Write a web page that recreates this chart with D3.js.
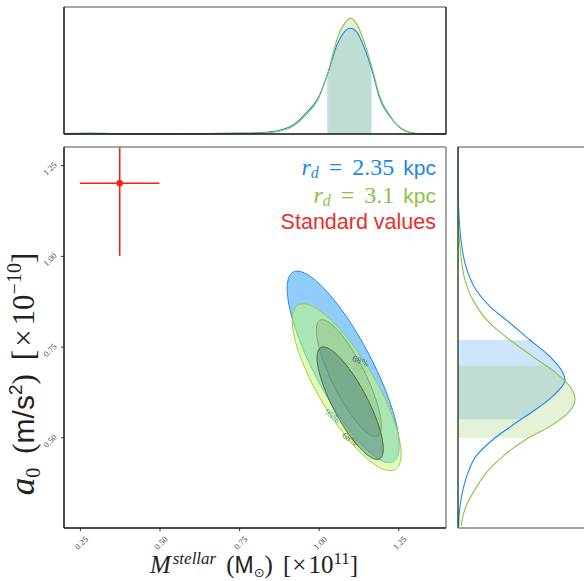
<!DOCTYPE html>
<html>
<head>
<meta charset="utf-8">
<script src="https://cdnjs.cloudflare.com/ajax/libs/d3/7.8.5/d3.min.js"></script>
<style>
  body { margin: 0; background: #fff; }
  svg { display: block; }
</style>
</head>
<body>
<svg id="chart" width="584" height="581"></svg>
<script>
// ---- data ----
const xTicks = [0.25, 0.50, 0.75, 1.00, 1.25];
const yTicks = [0.50, 0.75, 1.00, 1.25];

// marginal of M_stellar: [value, relative density]
const massBlue = [[0.20,0.004],[0.28,0.009],[0.36,0.004],[0.45,0.001],[0.55,0.002],[0.65,0.004],[0.75,0.008],
  [0.82,0.013],[0.88,0.035],[0.92,0.078],[0.96,0.18],[1.00,0.32],[1.03,0.536],[1.06,0.787],[1.08,0.88],
  [1.10,0.914],[1.12,0.88],[1.14,0.77],[1.17,0.527],[1.19,0.32],[1.225,0.147],[1.257,0.052],[1.29,0.011],[1.32,0.002],[1.40,0]];
const massGreen = [[0.20,0],[0.55,0],[0.65,0.001],[0.75,0.003],[0.82,0.006],[0.88,0.026],[0.92,0.068],[0.96,0.165],
  [1.00,0.31],[1.03,0.54],[1.06,0.84],[1.08,0.95],[1.10,1.0],[1.12,0.95],[1.14,0.82],[1.17,0.55],[1.19,0.34],
  [1.225,0.155],[1.257,0.05],[1.29,0.012],[1.32,0.002],[1.40,0]];

// marginal of a0: [value, relative density]
const a0Blue = [[1.30,0],[1.18,0.001],[1.107,0.009],[1.043,0.026],[0.97,0.068],[0.906,0.154],[0.86,0.274],
  [0.815,0.444],[0.768,0.615],[0.722,0.786],[0.677,0.897],[0.658,0.915],[0.622,0.838],[0.585,0.70],
  [0.54,0.496],[0.494,0.30],[0.448,0.154],[0.402,0.085],[0.356,0.043],[0.31,0.017],[0.255,0.006]];
const a0Green = [[1.30,0],[1.12,0.002],[1.06,0.009],[0.997,0.026],[0.933,0.06],[0.878,0.128],[0.814,0.274],
  [0.768,0.444],[0.722,0.641],[0.677,0.838],[0.64,0.957],[0.604,1.0],[0.567,0.94],[0.53,0.786],
  [0.494,0.58],[0.448,0.385],[0.402,0.24],[0.356,0.145],[0.31,0.068],[0.255,0.026]];

// 68% intervals
const massBand = [[1.026, 1.167], [1.03, 1.163]];
const a0Band = [[0.549, 0.768], [0.498, 0.697]];

// 2D contours: blue 95, blue 68, green 95, green 68
const contourCx = [1.077, 1.095, 1.088, 1.099];
const contourCy = [0.694, 0.663, 0.638, 0.594];
const contourHx = [0.176, 0.102, 0.171, 0.104];
const contourHy = [0.264, 0.161, 0.230, 0.155];
const contourRho = [-0.82, -0.82, -0.80, -0.81];

// contour labels
const labelText = ["68%", "95%", "95%", "68%"];
const labelX = [1.131, 1.134, 1.043, 1.099];
const labelY = [0.711, 0.692, 0.560, 0.496];

// standard values point
const stdX = 0.375, stdXErr = 0.125;
const stdY = 1.20, stdYErr = 0.20;

// ---- drawing ----
const BLUE = "#1E88E5", GREEN = "#8BC34A", RED = "#ff1a1a";
const SERIF = "'Liberation Serif', 'DejaVu Serif', serif";
const SANS = "'Liberation Sans', 'DejaVu Sans', sans-serif";

const main = { left: 64, right: 446, top: 147, bottom: 528 };
const topP = { left: 64, right: 446, top: 7, bottom: 134 };
const rightP = { left: 458, right: 585, top: 147, bottom: 528 };

const svg = d3.select("#chart");
const defs = svg.append("defs");

const x = d3.scaleLinear().domain([0.2, 1.4]).range([main.left, main.right]);
const y = d3.scaleLinear().domain([0.25, 1.3]).range([main.bottom, main.top]);
const topY = d3.scaleLinear().domain([0, 1.098]).range([topP.bottom, topP.top]);
const rightX = d3.scaleLinear().domain([0, 1.085]).range([rightP.left, rightP.right]);

function clipRect(id, x0, y0, x1, y1) {
  defs.append("clipPath").attr("id", id).append("rect")
    .attr("x", x0).attr("y", y0).attr("width", x1 - x0).attr("height", y1 - y0);
}
clipRect("clip-main", main.left, main.top, main.right, main.bottom);

// ---- top marginal ----
const topG = svg.append("g");
const areaTop = d3.area().x(d => x(d[0])).y0(topP.bottom).y1(d => topY(d[1])).curve(d3.curveMonotoneX);
const lineTop = d3.line().x(d => x(d[0])).y(d => topY(d[1])).curve(d3.curveMonotoneX);
[[massBlue, BLUE], [massGreen, GREEN]].forEach(([data, col], i) => {
  clipRect("clip-top-" + i, x(massBand[i][0]), topP.top, x(massBand[i][1]), topP.bottom);
  topG.append("path").attr("d", areaTop(data)).attr("fill", col).attr("fill-opacity", 0.22)
    .attr("clip-path", `url(#clip-top-${i})`);
});
[[massBlue, BLUE], [massGreen, GREEN]].forEach(([data, col]) => {
  topG.append("path").attr("d", lineTop(data)).attr("fill", "none").attr("stroke", col).attr("stroke-width", 1.1);
});

// ---- right marginal ----
const rightG = svg.append("g");
const areaRight = d3.area().y(d => y(d[0])).x0(rightP.left).x1(d => rightX(d[1])).curve(d3.curveMonotoneY);
const lineRight = d3.line().y(d => y(d[0])).x(d => rightX(d[1])).curve(d3.curveMonotoneY);
[[a0Blue, BLUE], [a0Green, GREEN]].forEach(([data, col], i) => {
  clipRect("clip-right-" + i, rightP.left, y(a0Band[i][1]), rightP.right, y(a0Band[i][0]));
  rightG.append("path").attr("d", areaRight(data)).attr("fill", col).attr("fill-opacity", 0.22)
    .attr("clip-path", `url(#clip-right-${i})`);
});
[[a0Blue, BLUE], [a0Green, GREEN]].forEach(([data, col]) => {
  rightG.append("path").attr("d", lineRight(data)).attr("fill", "none").attr("stroke", col).attr("stroke-width", 1.1);
});

// ---- main panel contours ----
const mainG = svg.append("g").attr("clip-path", "url(#clip-main)");
const contourFill = ["#91cdfa", "#69859f", "#c3ff6e", "#50827a"];
const contourFillOp = [1, 0.5, 0.5, 0.5];
const contourStroke = [BLUE, "#1a4f8a", "#9dc940", "#4f6530"];
const ellLine = d3.line().curve(d3.curveLinearClosed);

contourCx.forEach((cx, i) => {
  const r = contourRho[i], s = Math.sqrt(1 - r * r);
  const pts = d3.range(0, 360, 2).map(a => {
    const t = a * Math.PI / 180;
    return [x(cx + contourHx[i] * Math.cos(t)),
            y(contourCy[i] + contourHy[i] * (r * Math.cos(t) + s * Math.sin(t)))];
  });
  mainG.append("path").attr("d", ellLine(pts))
    .attr("fill", contourFill[i]).attr("fill-opacity", contourFillOp[i])
    .attr("stroke", contourStroke[i]).attr("stroke-width", 1);
});

const labelColor = ["#2c5f96", "#a9c95a", "#3d8fc9", "#5a6e3a"];
const labelRot = [22, 22, 38, 32];
labelText.forEach((t, i) => {
  mainG.append("text")
    .attr("transform", `translate(${x(labelX[i])},${y(labelY[i])}) rotate(${labelRot[i]})`)
    .attr("text-anchor", "middle").attr("dy", "0.35em")
    .attr("font-family", SERIF).attr("font-size", 9)
    .attr("fill", labelColor[i]).text(t);
});

// standard values with error bars
mainG.append("line").attr("x1", x(stdX - stdXErr)).attr("x2", x(stdX + stdXErr))
  .attr("y1", y(stdY)).attr("y2", y(stdY)).attr("stroke", RED).attr("stroke-width", 1.6);
mainG.append("line").attr("x1", x(stdX)).attr("x2", x(stdX))
  .attr("y1", y(stdY - stdYErr)).attr("y2", y(stdY + stdYErr)).attr("stroke", RED).attr("stroke-width", 1.6);
mainG.append("circle").attr("cx", x(stdX)).attr("cy", y(stdY)).attr("r", 3.3).attr("fill", RED);

// ---- axes ----
const xAxis = svg.append("g").attr("transform", `translate(0,${main.bottom})`)
  .call(d3.axisBottom(x).tickValues(xTicks).tickSize(3).tickFormat(d3.format(".2f")));
xAxis.select(".domain").remove();
xAxis.selectAll("line").attr("stroke", "#333");
xAxis.selectAll("text")
  .attr("y", 0).attr("dy", "0.35em")
  .attr("font-family", SERIF).attr("font-size", 8.5).attr("fill", "#444")
  .attr("text-anchor", "middle")
  .attr("transform", "translate(1,15) rotate(-45)");

const yAxis = svg.append("g").attr("transform", `translate(${main.left},0)`)
  .call(d3.axisLeft(y).tickValues(yTicks).tickSize(3).tickFormat(d3.format(".2f")));
yAxis.select(".domain").remove();
yAxis.selectAll("line").attr("stroke", "#333");
yAxis.selectAll("text")
  .attr("x", 0).attr("dy", "0.35em")
  .attr("font-family", SERIF).attr("font-size", 8.5).attr("fill", "#444")
  .attr("text-anchor", "middle")
  .attr("transform", "translate(-14,3) rotate(-45)");

// ---- spines ----
function spine(x1, y1, x2, y2, col, w) {
  svg.append("line").attr("x1", x1).attr("y1", y1).attr("x2", x2).attr("y2", y2)
    .attr("stroke", col).attr("stroke-width", w);
}
spine(main.left, main.top, main.right, main.top, "#888", 1.5);
spine(main.right, main.top, main.right, main.bottom, "#888", 1.5);
spine(main.left, main.bottom, main.right, main.bottom, "#111", 1.5);
spine(main.left, main.top, main.left, main.bottom, "#111", 1.5);

spine(topP.left, topP.top, topP.right, topP.top, "#888", 1.5);
spine(topP.right, topP.top, topP.right, topP.bottom, "#222", 1.5);
spine(topP.left, topP.bottom, topP.right, topP.bottom, "#111", 1.5);
spine(topP.left, topP.top, topP.left, topP.bottom, "#111", 1.5);

spine(rightP.left, rightP.top, rightP.right, rightP.top, "#888", 1.5);
spine(rightP.left, rightP.bottom, rightP.right, rightP.bottom, "#888", 1.5);
spine(rightP.left, rightP.top, rightP.left, rightP.bottom, "#2f4a2f", 1.5);

// ---- legend ----
const legend = svg.append("g").attr("text-anchor", "end");
function mathLegend(yPos, value, col) {
  const t = legend.append("text").attr("x", 436).attr("y", yPos).attr("fill", col).attr("font-size", 24);
  t.append("tspan").attr("font-family", SERIF).attr("font-style", "italic").text("r");
  t.append("tspan").attr("font-family", SERIF).attr("font-style", "italic").attr("font-size", 16).attr("dy", 3).text("d");
  t.append("tspan").attr("font-family", SERIF).attr("dy", -3).attr("dx", 10).text("=");
  t.append("tspan").attr("font-family", SERIF).attr("dx", 10).text(value);
  t.append("tspan").attr("font-family", SANS).attr("font-size", 21).attr("dx", 9).text("kpc");
}
mathLegend(175, "2.35", BLUE);
mathLegend(203, "3.1", GREEN);
legend.append("text").attr("x", 436).attr("y", 229).attr("fill", "#e8302c")
  .attr("font-family", SANS).attr("font-size", 21.5).text("Standard values");

// ---- axis labels ----
const xl = svg.append("text").attr("x", 254).attr("y", 573).attr("text-anchor", "middle")
  .attr("font-size", 25).attr("fill", "#222");
xl.append("tspan").attr("font-family", SERIF).attr("font-style", "italic").text("M");
xl.append("tspan").attr("font-family", SERIF).attr("font-style", "italic").attr("font-size", 17).attr("dy", -9).attr("dx", 2).text("stellar");
xl.append("tspan").attr("font-family", SERIF).attr("dy", 9).attr("dx", 10).text("(");
xl.append("tspan").attr("font-family", SANS).attr("font-size", 23).text("M");
xl.append("tspan").attr("font-family", SANS).attr("font-size", 13).attr("dy", 4).text("⊙");
xl.append("tspan").attr("font-family", SERIF).attr("dy", -4).text(")");
xl.append("tspan").attr("font-family", SERIF).attr("dx", 10).text("[");
xl.append("tspan").attr("font-family", SERIF).attr("dx", 1).text("×");
xl.append("tspan").attr("font-family", SERIF).attr("dx", 2).text("10");
xl.append("tspan").attr("font-family", SERIF).attr("font-size", 17).attr("dy", -9).text("11");
xl.append("tspan").attr("font-family", SERIF).attr("dy", 9).text("]");

const yl = svg.append("text").attr("transform", "translate(34,374) rotate(-90)").attr("text-anchor", "middle")
  .attr("font-size", 31).attr("fill", "#222");
yl.append("tspan").attr("font-family", SERIF).attr("font-style", "italic").attr("font-size", 35).text("a");
yl.append("tspan").attr("font-family", SERIF).attr("font-size", 20).attr("dy", 6).text("0");
yl.append("tspan").attr("font-family", SERIF).attr("dy", -6).attr("dx", 14).text("(");
yl.append("tspan").attr("font-family", SANS).attr("font-size", 30).text("m/s");
yl.append("tspan").attr("font-family", SANS).attr("font-size", 19).attr("dy", -12).text("2");
yl.append("tspan").attr("font-family", SERIF).attr("dy", 12).text(")");
yl.append("tspan").attr("font-family", SERIF).attr("dx", 14).text("[");
yl.append("tspan").attr("font-family", SERIF).attr("dx", 3).text("×");
yl.append("tspan").attr("font-family", SERIF).attr("dx", 4).text("10");
yl.append("tspan").attr("font-family", SERIF).attr("font-size", 20).attr("dy", -13).text("−10");
yl.append("tspan").attr("font-family", SERIF).attr("dy", 13).text("]");
</script>
</body>
</html>
